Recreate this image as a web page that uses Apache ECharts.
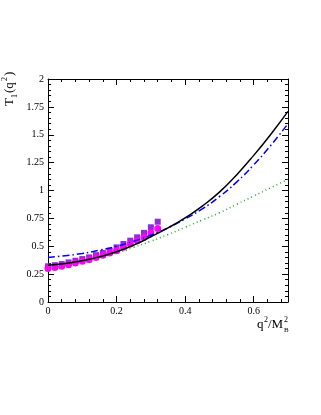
<!DOCTYPE html>
<html>
<head>
<meta charset="utf-8">
<script src="https://cdn.jsdelivr.net/npm/echarts@6/dist/echarts.min.js"></script>
<style>
  html, body { margin: 0; padding: 0; background: #fff; }
  #chart { width: 321px; height: 415px; }
</style>
</head>
<body>
<div id="chart"></div>
<script>
// curve sample points (q^2/M_B^2)
var qGrid = [0, 0.05, 0.1, 0.15, 0.2, 0.25, 0.3, 0.35, 0.4, 0.45, 0.5, 0.55, 0.6, 0.65, 0.7];
var solidVals = [0.33, 0.345, 0.37, 0.405, 0.45, 0.51, 0.585, 0.665, 0.755, 0.86, 0.985, 1.14, 1.315, 1.505, 1.71];
var dashDotVals = [0.40, 0.415, 0.435, 0.465, 0.50, 0.545, 0.60, 0.665, 0.745, 0.835, 0.945, 1.075, 1.23, 1.405, 1.60];
var dottedVals = [0.31, 0.335, 0.365, 0.40, 0.44, 0.49, 0.545, 0.605, 0.67, 0.735, 0.80, 0.875, 0.95, 1.025, 1.10];

// lattice-like points
var pointQ = [0, 0.02, 0.04, 0.06, 0.08, 0.10, 0.12, 0.14, 0.16, 0.18, 0.20, 0.22, 0.24, 0.26, 0.28, 0.30, 0.32];
var squareVals = [0.32, 0.33, 0.34, 0.355, 0.37, 0.385, 0.40, 0.42, 0.44, 0.46, 0.49, 0.52, 0.55, 0.58, 0.62, 0.67, 0.72];
var circleVals = [0.30, 0.31, 0.32, 0.335, 0.35, 0.365, 0.38, 0.40, 0.42, 0.44, 0.46, 0.49, 0.52, 0.55, 0.58, 0.62, 0.66];

function pairs(xs, ys) {
  return xs.map(function (x, i) { return [x, ys[i]]; });
}

var serif = '"Liberation Serif", "DejaVu Serif", serif';

var frameAxis = {
  axisLine: { show: true, onZero: false, lineStyle: { color: '#000', width: 1 } },
  axisTick: { show: true, inside: true, length: 6, lineStyle: { color: '#000' } },
  minorTick: { show: true, splitNumber: 5, length: 3, lineStyle: { color: '#000' } },
  splitLine: { show: false }
};

function ax(extra) {
  return Object.assign({}, JSON.parse(JSON.stringify(frameAxis)), extra);
}

function txt(s, x, y, size) {
  return { type: 'text', x: x, y: y, style: { text: s, font: size + 'px ' + serif, fill: '#000', textVerticalAlign: 'bottom' } };
}

var chart = echarts.init(document.getElementById('chart'));
chart.setOption({
  backgroundColor: '#fff',
  animation: false,
  grid: { left: 48, top: 79, right: 33, bottom: 113 },
  xAxis: [
    ax({
      type: 'value', min: 0, max: 0.7, interval: 0.2, position: 'bottom',
      axisLabel: { show: true, showMaxLabel: false, margin: 4, color: '#000', fontFamily: serif, fontSize: 10 }
    }),
    ax({
      type: 'value', min: 0, max: 0.7, interval: 0.2, position: 'top',
      axisLabel: { show: false }
    })
  ],
  yAxis: [
    ax({
      type: 'value', min: 0, max: 2, interval: 0.25, position: 'left',
      axisLabel: { show: true, margin: 4, color: '#000', fontFamily: serif, fontSize: 10 }
    }),
    ax({
      type: 'value', min: 0, max: 2, interval: 0.25, position: 'right',
      axisLabel: { show: false }
    })
  ],
  series: [
    {
      type: 'line', data: pairs(qGrid, dottedVals), smooth: true, symbol: 'none',
      lineStyle: { color: '#22aa22', width: 1.5, type: [1, 3] }
    },
    {
      type: 'line', data: pairs(qGrid, dashDotVals), smooth: true, symbol: 'none',
      lineStyle: { color: '#0000ff', width: 1.5, type: [7, 3, 1.5, 3] }
    },
    {
      type: 'line', data: pairs(qGrid, solidVals), smooth: true, symbol: 'none',
      lineStyle: { color: '#000', width: 1.5 }
    },
    {
      type: 'scatter', data: pairs(pointQ, squareVals), symbol: 'rect', symbolSize: 6,
      itemStyle: { color: '#8833cc', opacity: 1 }
    },
    {
      type: 'scatter', data: pairs(pointQ, circleVals), symbol: 'circle', symbolSize: 7,
      itemStyle: { color: '#ff00ff', opacity: 1 }
    }
  ],
  graphic: [
    {
      type: 'group', x: 16, y: 106, rotation: Math.PI / 2,
      children: [
        txt('T', 0, 0, 13),
        txt('1', 8, 3, 8),
        txt('(q', 13, 0, 13),
        txt('2', 25, -7, 8),
        txt(')', 30, 0, 13)
      ]
    },
    {
      type: 'group', x: 257, y: 331,
      children: [
        txt('q', 0, 0, 13),
        txt('2', 7, -7, 8),
        txt('/M', 11, 0, 13),
        txt('2', 27, -7, 8),
        txt('B', 27, 3, 7)
      ]
    }
  ]
});
</script>
</body>
</html>
